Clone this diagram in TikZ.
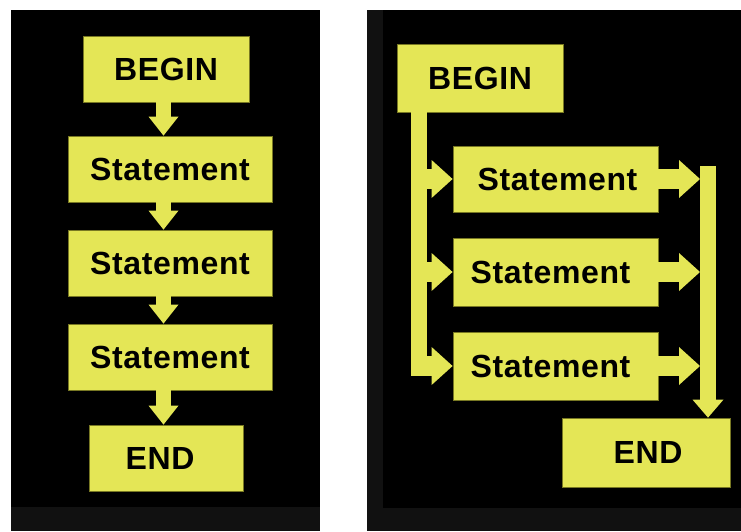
\documentclass[tikz,border=0pt]{standalone}
\usepackage{fontspec}
\setmainfont{Liberation Sans}
\usetikzlibrary{arrows.meta,calc}
\definecolor{ylw}{RGB}{228,230,86}
\definecolor{olv}{RGB}{120,120,35}
\definecolor{dgray}{RGB}{17,17,17}
\begin{document}
\begin{tikzpicture}[x=1pt,y=-1pt,
  box/.style={draw=olv, line width=0.8pt, fill=ylw, inner sep=0pt,
    font=\fontsize{32}{32}\selectfont\bfseries\addfontfeature{LetterSpace=2}, text=black},
  tshift/.style={execute at begin node={\hspace*{#1}}},
  vfat/.style={draw=ylw, line width=15pt, -{Triangle[width=30pt,length=19pt,line width=0pt]}},
  hfat/.style={draw=ylw, line width=20pt, -{Triangle[width=38pt,length=21pt,line width=0pt]}},
  vbar/.style={draw=ylw, line width=16pt, -{Triangle[width=31pt,length=18pt,line width=0pt]}},
  plainbar/.style={draw=ylw, line width=16pt}
]
\path[use as bounding box] (0,0) rectangle (741,531);
% panels
\fill[white] (0,0) rectangle (741,531);
\fill[black] (11,10) rectangle (320,507);
\fill[dgray] (11,507) rectangle (320,531);
\fill[dgray] (367,10) rectangle (741,531);
\fill[black] (383,10) rectangle (741,508);

% ---- left: sequence ----
\node[box, minimum width=166pt, minimum height=66pt] (lb) at (166,69) {BEGIN};
\node[box, minimum width=204pt, minimum height=66pt] (ls1) at (170,169) {Statement};
\node[box, minimum width=204pt, minimum height=66pt] (ls2) at (170,263) {Statement};
\node[box, minimum width=204pt, minimum height=66pt] (ls3) at (170,357) {Statement};
\node[box, minimum width=154pt, minimum height=66pt, tshift=-12pt] (le) at (166,458) {END};
\coordinate (ax) at (163.5,0);
\draw[vfat] (lb.south -| ax) -- (ls1.north -| ax);
\draw[vfat] (ls1.south -| ax) -- (ls2.north -| ax);
\draw[vfat] (ls2.south -| ax) -- (ls3.north -| ax);
\draw[vfat] (ls3.south -| ax) -- (le.north -| ax);

% ---- right: parallel ----
\node[box, minimum width=166pt, minimum height=68pt] (rb) at (480,78) {BEGIN};
\node[box, minimum width=205pt, minimum height=66pt, tshift=4pt] (rs1) at (555.5,179) {Statement};
\node[box, minimum width=205pt, minimum height=68pt, tshift=-10pt] (rs2) at (555.5,272) {Statement};
\node[box, minimum width=205pt, minimum height=68pt, tshift=-10pt] (rs3) at (555.5,366) {Statement};
\node[box, minimum width=168pt, minimum height=69pt, tshift=4pt] (re) at (646,452.5) {END};
\coordinate (lbot) at (419,376);
\coordinate (rx) at (700,0);
\coordinate (rtop) at (708,166);
\draw[plainbar] (rb.south -| lbot) -- (lbot);
\draw[hfat] (rs1.west -| lbot) -- (rs1.west);
\draw[hfat] (rs2.west -| lbot) -- (rs2.west);
\draw[hfat] (rs3.west -| lbot) -- (rs3.west);
\draw[hfat] (rs1.east) -- (rs1.east -| rx);
\draw[hfat] (rs2.east) -- (rs2.east -| rx);
\draw[hfat] (rs3.east) -- (rs3.east -| rx);
\draw[vbar] (rtop) -- (rtop |- re.north);
\end{tikzpicture}
\end{document}
